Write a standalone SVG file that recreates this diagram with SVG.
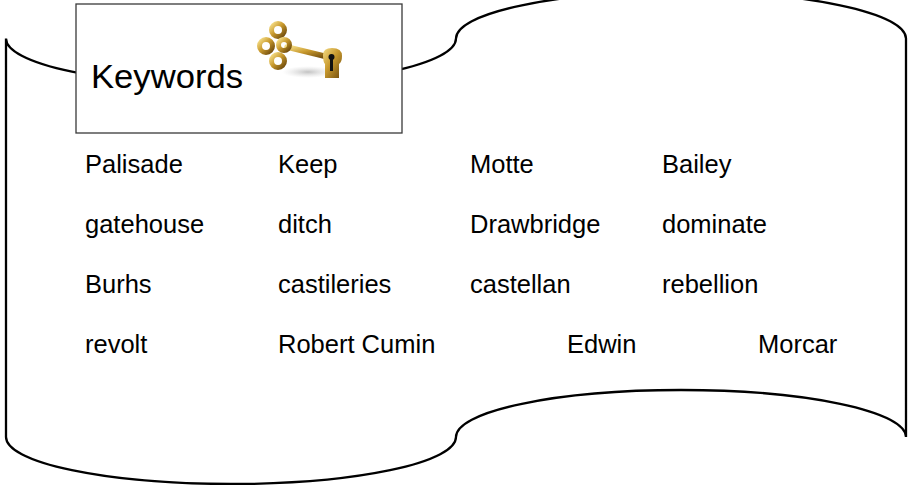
<svg xmlns="http://www.w3.org/2000/svg" width="910" height="485" viewBox="0 0 910 485">
  <style>
    .tape { fill: #ffffff; stroke: #000000; stroke-width: 2.3; }
    .box { fill: #ffffff; stroke: #3a3a3a; stroke-width: 1.3; }
    .word { font-family: "Liberation Sans", Arial, sans-serif; font-size: 25.5px; fill: #000000; }
    .title { font-family: "Liberation Sans", Arial, sans-serif; font-size: 33px; fill: #000000; }
    .ring { fill: none; stroke: url(#gold); stroke-width: 5; }
  </style>
  <defs>
    <linearGradient id="gold" x1="0" y1="0" x2="1" y2="1">
      <stop offset="0" stop-color="#f4dc85"/>
      <stop offset="0.45" stop-color="#c99a2e"/>
      <stop offset="1" stop-color="#6e4a0c"/>
    </linearGradient>
    <radialGradient id="shadow" cx="0.5" cy="0.5" r="0.5">
      <stop offset="0" stop-color="#9a9a9a" stop-opacity="0.6"/>
      <stop offset="1" stop-color="#cccccc" stop-opacity="0"/>
    </radialGradient>
  </defs>

  <g id="tape">
    <path class="tape" d="M6,38.5 A225,47 0 0 0 456,38.5 A225,47 0 0 1 906,38.5 L906,437 A225,47 0 0 0 456,437 A225,47 0 0 1 6,437 Z"/>
  </g>

  <g id="title-box">
    <rect class="box" x="76" y="4" width="326" height="129"/>
    <text class="title" x="91" y="88" textLength="152" lengthAdjust="spacingAndGlyphs">Keywords</text>
    <g id="key">
      <ellipse cx="308" cy="72" rx="26" ry="6" fill="url(#shadow)"/>
      <line x1="287" y1="47" x2="328" y2="57" stroke="url(#gold)" stroke-width="5.5" stroke-linecap="round"/>
      <circle class="ring" cx="278" cy="30" r="6.5"/>
      <circle class="ring" cx="266" cy="46" r="6.5"/>
      <circle class="ring" cx="278" cy="61" r="6.5"/>
      <circle class="ring" cx="284" cy="45" r="5.5"/>
      <path d="M323,55 Q323,48 332,48 Q342,48 342,56 Q342,62 339,64 L339,78 L325,78 L325,64 Q323,62 323,55 Z" fill="url(#gold)"/>
      <circle cx="331.5" cy="57" r="3" fill="#111111"/>
      <rect x="330" y="57" width="3" height="14" fill="#111111"/>
    </g>
  </g>

  <g id="keywords">
    <text class="word" x="85" y="173">Palisade</text>
    <text class="word" x="278" y="173">Keep</text>
    <text class="word" x="470" y="173">Motte</text>
    <text class="word" x="662" y="173">Bailey</text>

    <text class="word" x="85" y="233">gatehouse</text>
    <text class="word" x="278" y="233">ditch</text>
    <text class="word" x="470" y="233">Drawbridge</text>
    <text class="word" x="662" y="233">dominate</text>

    <text class="word" x="85" y="293">Burhs</text>
    <text class="word" x="278" y="293">castileries</text>
    <text class="word" x="470" y="293">castellan</text>
    <text class="word" x="662" y="293">rebellion</text>

    <text class="word" x="85" y="353">revolt</text>
    <text class="word" x="278" y="353">Robert Cumin</text>
    <text class="word" x="567" y="353">Edwin</text>
    <text class="word" x="758" y="353">Morcar</text>
  </g>
</svg>
